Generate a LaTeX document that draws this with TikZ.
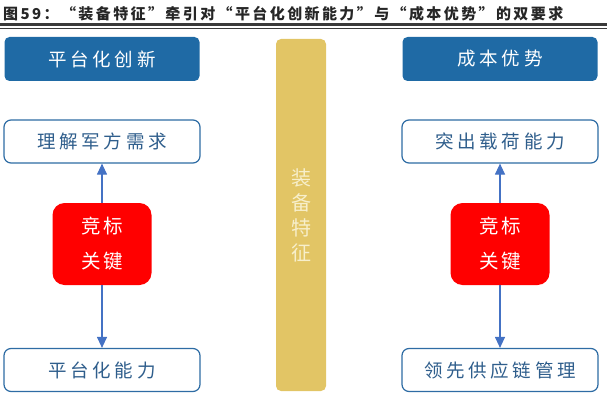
\documentclass[tikz,border=0pt]{standalone}
\usepackage{fontspec}
\setmainfont{Noto Sans CJK SC}
\newfontfamily\titlecjk[LetterSpace=16]{Noto Sans CJK SC}
\newfontfamily\boxcjk[LetterSpace=20]{Noto Sans CJK SC}
\newfontfamily\keycjk[LetterSpace=15]{Noto Sans CJK SC}
\usetikzlibrary{arrows.meta,positioning}
\definecolor{headblue}{HTML}{1F6AA5}
\definecolor{lineblue}{HTML}{2E6CA4}
\definecolor{inkblue}{HTML}{2F5E8C}
\definecolor{arrowblue}{HTML}{4472C4}
\definecolor{keyred}{HTML}{FF0000}
\definecolor{gold}{HTML}{E2C565}
\definecolor{goldtext}{HTML}{F7EFCB}
\definecolor{rule}{HTML}{3A3A3A}

\begin{document}
\begin{tikzpicture}[
    x=1pt, y=-1pt,
    head/.style={rectangle, rounded corners=5pt, fill=headblue, draw=none,
                 minimum width=195pt, minimum height=44pt, inner sep=0pt,
                 text=white, font=\boxcjk\fontsize{18.5}{20}\selectfont},
    aim/.style={rectangle, rounded corners=7pt, fill=white, draw=lineblue, line width=1.2pt,
                minimum width=196pt, minimum height=43pt, inner sep=0pt,
                text=inkblue, font=\boxcjk\fontsize{18.5}{20}\selectfont},
    key/.style={rectangle, rounded corners=12pt, fill=keyred, draw=none,
                minimum width=99pt, minimum height=82pt, inner sep=0pt, align=center,
                text=white, font=\keycjk\fontsize{19.5}{35}\selectfont},
    pillar/.style={rectangle, rounded corners=5pt, fill=gold, draw=none,
                   minimum width=50pt, minimum height=352pt, inner sep=0pt, align=center,
                   text=goldtext, font=\fontsize{20}{25}\selectfont},
    flow/.style={-{Triangle[length=11pt,width=10pt]}, line width=1.2pt, color=arrowblue}
  ]
\useasboundingbox (0,0) rectangle (607,401);

% ---------------- geometry ----------------
\def\xl{102}    % centre of left column
\def\xr{500}    % centre of right column

% ---------------- title ----------------
\node[anchor=west, inner sep=0pt, text=black!85, font=\titlecjk\bfseries\fontsize{15}{17}\selectfont]
  (title) at (3,13.5) {图59：“装备特征”牵引对“平台化创新能力”与“成本优势”的双要求};
\draw[rule, line width=2.4pt] (0,24.5) -- (607,24.5);
\draw[rule, line width=0.8pt] (0,28.6) -- (607,28.6);

% ---------------- column heads ----------------
\node[head] (hl) at (\xl,59) {平台化创新};
\node[head] (hr) at (\xr,59) {成本优势};

% ---------------- centre pillar ----------------
\node[pillar] (feat) at (301,215) {装\\备\\特\\征};

% ---------------- targets ----------------
\node[aim] (tl1) at (\xl,141.5) {理解军方需求};
\node[aim] (tl2) at (\xl,370)   {平台化能力};
\node[aim] (tr1) at (\xr,141.5) {突出载荷能力};
\node[aim] (tr2) at (\xr,370)   {领先供应链管理};

% ---------------- bid keys ----------------
\node[key] (kl) at (\xl,244) {竞标\\关键};
\node[key] (kr) at (\xr,244) {竞标\\关键};

% ---------------- arrows ----------------
\foreach \k/\t in {kl/tl1,kl/tl2,kr/tr1,kr/tr2}
  \draw[flow] (\k) -- (\t);

\end{tikzpicture}
\end{document}
